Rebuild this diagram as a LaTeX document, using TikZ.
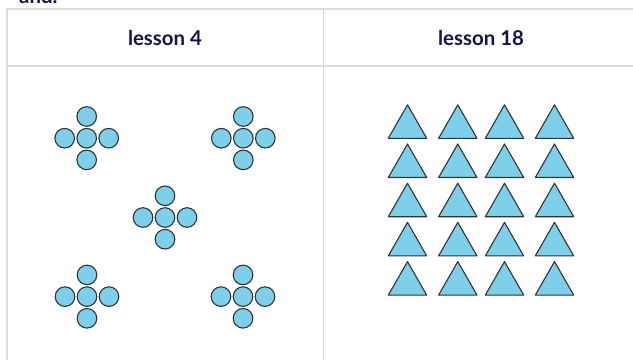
\documentclass[tikz,border=0pt]{standalone}
\usepackage{fontspec}
\setmainfont{Lato}
\definecolor{gridgray}{HTML}{DCDCDC}
\definecolor{navytext}{HTML}{14144A}
\definecolor{shapefill}{HTML}{7DCFEA}
\definecolor{shapeline}{HTML}{333333}
\begin{document}
\begin{tikzpicture}[x=1bp,y=-1bp,
  gridline/.style={draw=gridgray,line width=1.8bp},
  headtext/.style={text=navytext,font=\bfseries\fontsize{20.5}{24}\selectfont,inner sep=0pt},
  dot/.style={circle,draw=shapeline,fill=shapefill,line width=1.1bp,minimum size=19.6bp,inner sep=0pt},
  tri/.style={draw=shapeline,fill=shapefill,line width=1.1bp,line join=round}]
\useasboundingbox (0,0) rectangle (633,360);
% cropped text at the very top
\node[headtext,anchor=base west] (cut) at (19,3) {and.};
% table grid
\draw[gridline] (7,9) -- (633,9);
\draw[gridline] (7,66) -- (633,66);
\draw[gridline] (7,9) -- (7,360);
\draw[gridline] (323.5,9) -- (323.5,360);
% headers
\node[headtext] (h1) at (165,38) {lesson 4};
\node[headtext] (h2) at (481,38) {lesson 18};
% clusters of circles
\foreach \n/\cx/\cy in {a/86.7/138.2, b/243.3/138.2, c/165/217.5, d/87/296.6, e/243/296.6}{
  \node[dot] (\n-m) at (\cx,\cy) {};
  \node[dot] (\n-t) at (\cx,\cy-21.7) {};
  \node[dot] (\n-b) at (\cx,\cy+21.7) {};
  \node[dot] (\n-l) at (\cx-22,\cy) {};
  \node[dot] (\n-r) at (\cx+22,\cy) {};
}
% triangles
\foreach \bx in {407.5,457.8,504.5,554.5}{
  \foreach \by in {138.3,177.5,216.7,255.9,295.1}{
    \draw[tri] (\bx-19.2,\by) -- (\bx+19.2,\by) -- (\bx,\by-33.5) -- cycle;
  }
}
\end{tikzpicture}
\end{document}
